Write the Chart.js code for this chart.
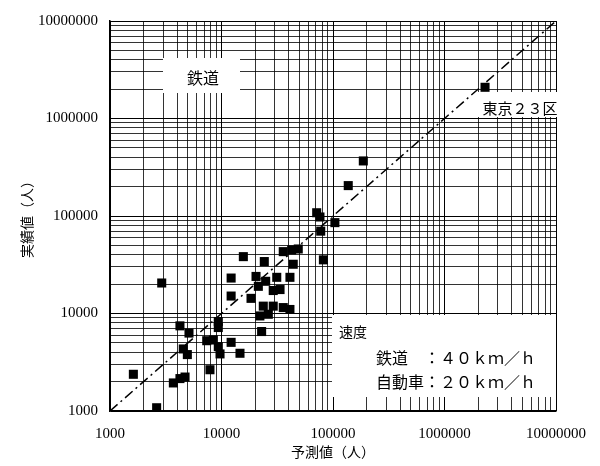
<!DOCTYPE html>
<html>
<head>
<meta charset="utf-8">
<script src="https://cdn.jsdelivr.net/npm/chart.js@4/dist/chart.umd.min.js"></script>
<style>
  html, body { margin: 0; padding: 0; background: #fff; }
  #wrap { width: 600px; height: 466px; }
</style>
</head>
<body>
<div id="wrap"><canvas id="c" width="600" height="466"></canvas></div>
<script>
// Predicted values (x, 予測値) and actual values (y, 実績値), persons
const predicted = [
  2310000, 187000, 137000, 71400, 76400, 104000, 77600, 82000,
  15700, 24200, 35800, 42600, 48800, 44000,
  12200, 20400, 24900, 31300, 41100, 21400,
  12200, 18400, 29100, 33500,
  23700, 29100, 35800, 41100, 22100, 26300, 22900,
  4240, 5110, 9360, 9360, 7370, 8450, 9360, 9700, 12200, 14650,
  4540, 4940, 7880, 3700, 4240, 4710, 1620, 2620, 2910
];
const actual = [
  2090000, 367000, 205000, 108000, 97700, 85500, 69900, 35500,
  38300, 34100, 43100, 44900, 45900, 32000,
  23100, 24000, 21400, 23500, 23500, 19000,
  15100, 14300, 17200, 17600,
  11900, 11900, 11500, 11000, 9440, 9820, 6530,
  7470, 6300, 8260, 7180, 5260, 5350, 4570, 3850, 5060, 3910,
  4330, 3790, 2650, 1940, 2150, 2230, 2380, 1080, 20550
];
const axisMin = 1000;
const axisMax = 10000000;
const decadeLabels = ['1000', '10000', '100000', '1000000', '10000000'];
const xTitle = '予測値（人）';
const yTitle = '実績値（人）';

const points = predicted.map((v, i) => ({ x: v, y: actual[i] }));
const diagonal = [{ x: axisMin, y: axisMin }, { x: axisMax, y: axisMax }];

function logTicks(scale) {
  const t = [];
  for (let e = 1000; e < axisMax; e *= 10) {
    for (let m = 1; m <= 9; m++) t.push({ value: m * e });
  }
  t.push({ value: axisMax });
  scale.ticks = t;
}
function labelFor(v) {
  const s = String(Math.round(v));
  return decadeLabels.includes(s) ? s : '';
}
function gridColor(ctx) {
  const v = ctx.tick ? ctx.tick.value : 0;
  return decadeLabels.includes(String(Math.round(v))) ? '#000' : 'rgba(0,0,0,0.8)';
}
const cjk = '"Noto Sans CJK JP", "Noto Sans", sans-serif';

const annotations = {
  id: 'annotations',
  beforeDatasetsDraw(chart) {
    const c = chart.ctx;
    c.save();
    c.fillStyle = '#fff';
    c.fillRect(163, 58, 77, 35);
    c.fillRect(475, 92, 82, 25);
    c.fillRect(332, 315, 224, 82);
    c.fillStyle = '#000';
    c.textBaseline = 'middle';
    c.font = '16px ' + cjk;
    c.textAlign = 'center';
    c.fillText('鉄道', 203, 78);
    c.font = '15px ' + cjk;
    c.fillText('東京２３区', 520, 108);
    c.textAlign = 'left';
    c.font = '14px ' + cjk;
    c.fillText('速度', 339, 332);
    c.textAlign = 'right';
    c.font = '16px ' + cjk;
    c.fillText('鉄道　：４０ｋｍ／ｈ', 536, 358);
    c.fillText('自動車：２０ｋｍ／ｈ', 536, 382);
    c.restore();
  }
};

new Chart(document.getElementById('c'), {
  type: 'scatter',
  data: {
    datasets: [
      {
        type: 'line',
        data: diagonal,
        borderColor: '#000',
        borderWidth: 1.5,
        borderDash: [10, 4, 2, 4],
        pointRadius: 0,
        fill: false
      },
      {
        data: points,
        pointStyle: 'rect',
        pointRadius: 6.4,
        pointHoverRadius: 6.4,
        backgroundColor: '#000',
        borderColor: '#000',
        borderWidth: 0
      }
    ]
  },
  options: {
    responsive: false,
    animation: false,
    events: [],
    layout: { padding: { left: 0, right: 44, top: 17, bottom: 0 } },
    plugins: { legend: { display: false }, tooltip: { enabled: false } },
    scales: {
      x: {
        type: 'logarithmic',
        min: axisMin,
        max: axisMax,
        afterBuildTicks: logTicks,
        afterFit(s) { s.height = 55; },
        grid: { color: gridColor, lineWidth: 1, drawTicks: false },
        border: { display: true, color: '#000', width: 1.5 },
        ticks: {
          autoSkip: false,
          maxRotation: 0,
          padding: 14,
          color: '#000',
          font: { family: '"Liberation Serif", serif', size: 15 },
          callback: (v) => labelFor(v)
        },
        title: {
          display: true,
          text: xTitle,
          color: '#000',
          font: { family: cjk, size: 14 },
          padding: { top: 0, bottom: 6 }
        }
      },
      y: {
        type: 'logarithmic',
        min: axisMin,
        max: axisMax,
        afterBuildTicks: logTicks,
        afterFit(s) { s.width = 110; },
        grid: { color: gridColor, lineWidth: 1, drawTicks: false },
        border: { display: true, color: '#000', width: 1.5 },
        ticks: {
          autoSkip: false,
          padding: 12,
          color: '#000',
          font: { family: '"Liberation Serif", serif', size: 15 },
          callback: (v) => labelFor(v)
        },
        title: {
          display: true,
          text: yTitle,
          color: '#000',
          font: { family: cjk, size: 14 },
          padding: { top: 18, bottom: 0 }
        }
      }
    }
  },
  plugins: [annotations]
});
</script>
</body>
</html>
